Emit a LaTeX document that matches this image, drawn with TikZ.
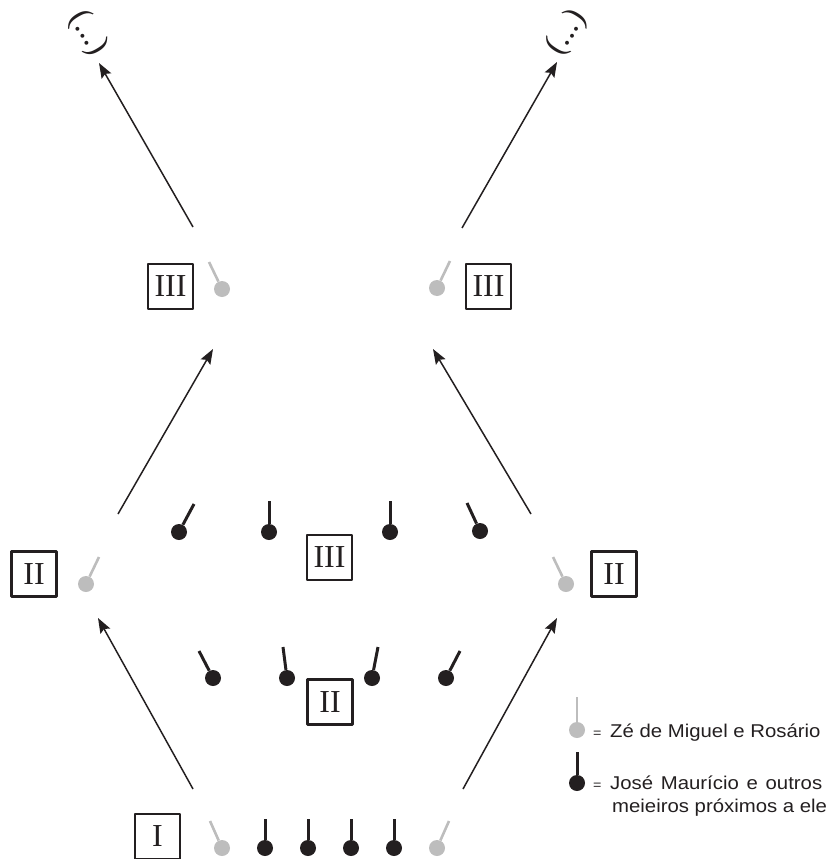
\documentclass[tikz,border=0pt]{standalone}
\usepackage{fontspec}
\setmainfont{Liberation Serif}
\newfontfamily\legfont[FakeStretch=1.1]{Liberation Sans}
\usetikzlibrary{arrows.meta}
\definecolor{ink}{HTML}{231F20}
\definecolor{pale}{HTML}{BDBDBD}
\tikzset{
  numbox/.style={draw=ink, line width=2.3pt, line join=round, minimum size=45pt, inner sep=0pt,
    font=\fontsize{32}{32}\selectfont, text=ink},
  dball/.style={circle, fill=ink, minimum size=16pt, inner sep=0pt},
  gball/.style={circle, fill=pale, minimum size=16pt, inner sep=0pt},
  dstick/.style={draw=ink, line width=3pt},
  gstick/.style={draw=pale, line width=2.6pt},
  flow/.style={draw=ink, line width=1.5pt, -{Stealth[length=15pt,width=11pt,inset=2.5pt]}},
  etc/.style={font=\fontsize{33}{33}\selectfont, text=ink, inner sep=0pt},
  legtext/.style={font=\legfont\fontsize{18.5}{18.5}\selectfont, text=ink, inner sep=0pt},
  legeq/.style={font=\legfont\fontsize{13}{13}\selectfont, text=ink, inner sep=0pt}
}
\begin{document}
\begin{tikzpicture}[x=1pt,y=-1pt]
\useasboundingbox (0,0) rectangle (831,859);

% ---------- row I ----------
\node[numbox] (bI) at (157.5,836.5) {I};
\node[gball] (r1a) at (222,848) {}; \coordinate (t1a) at (210,821);
\node[dball] (r1b) at (265,848) {}; \coordinate (t1b) at (265,819);
\node[dball] (r1c) at (308,848) {}; \coordinate (t1c) at (308,819);
\node[dball] (r1d) at (351,848) {}; \coordinate (t1d) at (351,819);
\node[dball] (r1e) at (394,848) {}; \coordinate (t1e) at (394,819);
\node[gball] (r1f) at (437,848) {}; \coordinate (t1f) at (449,821);
\draw[gstick] (r1a) -- (t1a);
\draw[dstick] (r1b) -- (t1b);
\draw[dstick] (r1c) -- (t1c);
\draw[dstick] (r1d) -- (t1d);
\draw[dstick] (r1e) -- (t1e);
\draw[gstick] (r1f) -- (t1f);

% ---------- inner row II ----------
\node[numbox] (bIIm) at (330,702) {II};
\node[dball] (r2a) at (213,678) {}; \coordinate (t2a) at (199,651);
\node[dball] (r2b) at (287,678) {}; \coordinate (t2b) at (283,647);
\node[dball] (r2c) at (372,678) {}; \coordinate (t2c) at (378,647);
\node[dball] (r2d) at (446,678) {}; \coordinate (t2d) at (460,651);
\draw[dstick] (r2a) -- (t2a);
\draw[dstick] (r2b) -- (t2b);
\draw[dstick] (r2c) -- (t2c);
\draw[dstick] (r2d) -- (t2d);

% ---------- inner row III ----------
\node[numbox] (bIIIm) at (329.5,557.5) {III};
\node[dball] (r3a) at (179,532) {}; \coordinate (t3a) at (194,504);
\node[dball] (r3b) at (269,532) {}; \coordinate (t3b) at (269,501);
\node[dball] (r3c) at (390,532) {}; \coordinate (t3c) at (390,501);
\node[dball] (r3d) at (480,531) {}; \coordinate (t3d) at (467,503);
\draw[dstick] (r3a) -- (t3a);
\draw[dstick] (r3b) -- (t3b);
\draw[dstick] (r3c) -- (t3c);
\draw[dstick] (r3d) -- (t3d);

% ---------- side II ----------
\node[numbox] (bIIl) at (34,574) {II};
\node[gball] (sIIl) at (86,584) {}; \coordinate (uIIl) at (99,557);
\draw[gstick] (sIIl) -- (uIIl);
\node[numbox] (bIIr) at (614,574) {II};
\node[gball] (sIIr) at (566,584) {}; \coordinate (uIIr) at (553,557);
\draw[gstick] (sIIr) -- (uIIr);

% ---------- side III ----------
\node[numbox] (bIIIl) at (170.5,286.5) {III};
\node[gball] (sIIIl) at (222,289) {}; \coordinate (uIIIl) at (209,262);
\draw[gstick] (sIIIl) -- (uIIIl);
\node[numbox] (bIIIr) at (488.5,286.5) {III};
\node[gball] (sIIIr) at (437,288) {}; \coordinate (uIIIr) at (450,261);
\draw[gstick] (sIIIr) -- (uIIIr);

% ---------- top (...) ----------
\node[etc, rotate=-59] (etcl) at (88,33) {(...)};
\node[etc, rotate=57] (etcr) at (567,33) {(...)};

% ---------- arrows ----------
\coordinate (a1s) at (193,789); \coordinate (a1e) at (98,618);
\coordinate (a2s) at (463,789); \coordinate (a2e) at (557,618);
\coordinate (a3s) at (118,514); \coordinate (a3e) at (213,349);
\coordinate (a4s) at (531,514); \coordinate (a4e) at (433,349);
\coordinate (a5s) at (193,227); \coordinate (a5e) at (99,63);
\coordinate (a6s) at (462,228); \coordinate (a6e) at (557,62);
\draw[flow] (a1s) -- (a1e);
\draw[flow] (a2s) -- (a2e);
\draw[flow] (a3s) -- (a3e);
\draw[flow] (a4s) -- (a4e);
\draw[flow] (a5s) -- (a5e);
\draw[flow] (a6s) -- (a6e);

% ---------- legend ----------
\node[gball] (lg) at (577,730) {}; \coordinate (lgt) at (577,697);
\draw[gstick] (lg) -- (lgt);
\node[dball] (ld) at (577,783) {}; \coordinate (ldt) at (577,752);
\draw[dstick] (ld) -- (ldt);
\node[legeq, anchor=base west] (eq1) at (593,737) {=};
\node[legtext, anchor=base west] (lt1) at (610,737) {Zé de Miguel e Rosário};
\node[legeq, anchor=base west] (eq2) at (593,789) {=};
\node[legtext, anchor=base west] (lt2) at (610,789) {\makebox[212pt][s]{José Maurício e outros}};
\node[legtext, anchor=base west] (lt3) at (612,812) {meieiros próximos a ele};
\end{tikzpicture}
\end{document}
